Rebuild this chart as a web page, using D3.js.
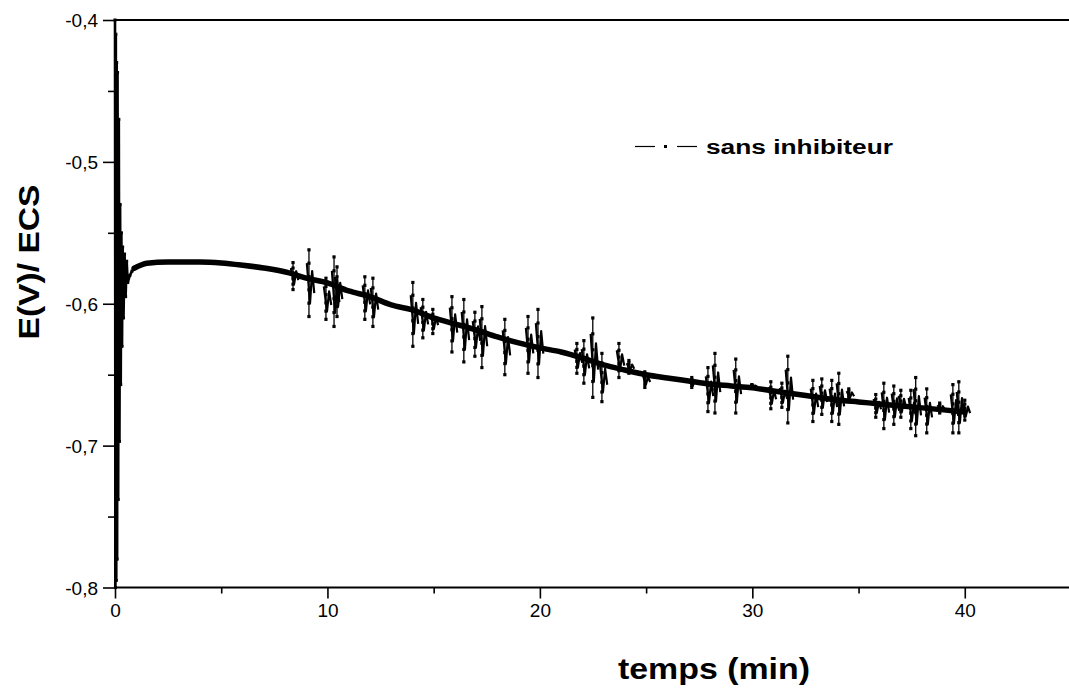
<!DOCTYPE html>
<html><head><meta charset="utf-8">
<script src="https://cdn.jsdelivr.net/npm/d3@7"></script>
<style>body{margin:0;background:#fff}svg{font-family:Arial,"Liberation Sans",sans-serif}</style>
</head><body>
<svg id="c" width="1069" height="691"></svg>
<script>
// initial transient (t in min, E in V)
const initT = [0, 0.02, 0.04, 0.06, 0.08, 0.10, 0.12, 0.15, 0.18, 0.21, 0.24, 0.27, 0.30, 0.33, 0.36, 0.40, 0.45, 0.50, 0.55, 0.60, 0.70, 0.80, 0.90];
const initE = [-0.40, -0.80, -0.41, -0.795, -0.43, -0.78, -0.437, -0.738, -0.47, -0.697, -0.53, -0.657, -0.55, -0.63, -0.56, -0.61, -0.565, -0.595, -0.57, -0.585, -0.58, -0.577, -0.575];
// smooth drift of the potential
const baseT = [0.9, 1.5, 2.5, 4, 5, 6, 7, 8.2, 9, 10, 11, 12, 13, 14, 15, 16, 17, 18, 19, 20, 21, 22, 23, 24, 25, 26, 27, 28, 29, 30, 31, 32, 33, 34, 35, 36, 37, 38, 39, 40];
const baseE = [-0.575, -0.5715, -0.5705, -0.5705, -0.5712, -0.5728, -0.5748, -0.5783, -0.582, -0.5853, -0.591, -0.595, -0.6008, -0.6044, -0.610, -0.6142, -0.6185, -0.6234, -0.6276, -0.6311, -0.634, -0.6382, -0.6431, -0.6467, -0.650, -0.6523, -0.6544, -0.6565, -0.6579, -0.6593, -0.6615, -0.6636, -0.6657, -0.6678, -0.6692, -0.6706, -0.672, -0.6734, -0.6748, -0.6763];
// noise spikes: time, upper and lower extreme
const spikeT  = [8.38, 9.13, 9.93, 10.31, 10.45, 11.76, 12.14, 14.02, 14.49, 14.96, 15.86, 16.42, 16.94, 17.27, 18.35, 19.44, 19.91, 21.74, 22.07, 22.49, 22.92, 23.72, 24.19, 24.94, 27.15, 27.91, 28.24, 29.22, 29.98, 30.87, 31.39, 31.67, 32.85, 33.27, 33.74, 34.07, 34.54, 35.81, 36.19, 36.66, 36.99, 37.46, 37.69, 38.21, 38.82, 39.44, 39.72, 40.00];
const spikeHi = [-0.571, -0.562, -0.582, -0.567, -0.574, -0.581, -0.582, -0.585, -0.597, -0.604, -0.595, -0.597, -0.606, -0.602, -0.611, -0.609, -0.604, -0.628, -0.626, -0.610, -0.635, -0.628, -0.640, -0.648, -0.652, -0.645, -0.635, -0.639, -0.657, -0.655, -0.656, -0.637, -0.654, -0.653, -0.654, -0.649, -0.660, -0.664, -0.656, -0.658, -0.661, -0.661, -0.652, -0.660, -0.670, -0.657, -0.655, -0.668];
const spikeLo = [-0.590, -0.609, -0.611, -0.616, -0.609, -0.611, -0.616, -0.630, -0.624, -0.621, -0.634, -0.641, -0.637, -0.645, -0.650, -0.649, -0.652, -0.649, -0.656, -0.666, -0.669, -0.652, -0.649, -0.659, -0.659, -0.676, -0.677, -0.677, -0.659, -0.674, -0.673, -0.684, -0.683, -0.678, -0.683, -0.685, -0.668, -0.680, -0.688, -0.685, -0.680, -0.688, -0.693, -0.691, -0.677, -0.691, -0.691, -0.682];
const xTicks = [0, 10, 20, 30, 40];
const xMinor = [5, 15, 25, 35, 45];
const yTicks = [-0.8, -0.7, -0.6, -0.5, -0.4];
const yMinor = [-0.75, -0.65, -0.55, -0.45];
const xTitle = "temps (min)";
const yTitle = "E(V)/ ECS";
const legendLabel = "sans inhibiteur";

const svg = d3.select("#c");
const x = d3.scaleLinear().domain([0, 45]).range([115, 1071]);
const y = d3.scaleLinear().domain([-0.8, -0.4]).range([587.5, 20]);
const fmtY = d => d.toFixed(1).replace(".", ",");

// axes
svg.append("g").attr("transform", "translate(0,587.5)")
  .call(d3.axisBottom(x).tickValues(xTicks).tickSize(11).tickPadding(5).tickFormat(d3.format("d")));
svg.append("g").attr("transform", "translate(0,587.5)")
  .call(d3.axisBottom(x).tickValues(xMinor).tickSize(6).tickFormat(""));
const gy = svg.append("g").attr("transform", "translate(115,0)")
  .call(d3.axisLeft(y).tickValues(yTicks).tickSize(12).tickPadding(5).tickFormat(fmtY));
svg.append("g").attr("transform", "translate(115,0)")
  .call(d3.axisLeft(y).tickValues(yMinor).tickSize(7).tickFormat(""));
svg.selectAll(".domain").remove();
svg.selectAll(".tick line").attr("stroke", "#000").attr("stroke-width", 1.6);
svg.selectAll(".tick text").attr("font-size", 19).attr("fill", "#000")
  .attr("font-family", "Arial, 'Liberation Sans', sans-serif");
gy.selectAll(".tick text").attr("dy", "0.35em");

// frame lines
const frame = svg.append("g").attr("stroke", "#000").attr("stroke-width", 2).attr("fill", "none");
frame.append("line").attr("x1", x(0)).attr("x2", x(45)).attr("y1", y(-0.8)).attr("y2", y(-0.8));
frame.append("line").attr("x1", x(0)).attr("x2", x(45)).attr("y1", y(-0.4)).attr("y2", y(-0.4));
frame.append("line").attr("x1", x(0)).attr("x2", x(0)).attr("y1", y(-0.4)).attr("y2", y(-0.8));
frame.append("line").attr("x1", x(45)).attr("x2", x(45)).attr("y1", y(-0.4)).attr("y2", y(-0.8));

// data
const line = d3.line().x(d => x(d[0])).y(d => y(d[1]));
const initPts = initT.map((t, i) => [t, initE[i]]);
const basePts = baseT.map((t, i) => [t, baseE[i]]);
const spikes = spikeT.map((t, i) => ({t, hi: spikeHi[i], lo: spikeLo[i]}));

const plot = svg.append("g");
plot.append("path").datum(initPts).attr("d", line)
  .attr("fill", "none").attr("stroke", "#000").attr("stroke-width", 2.6).attr("stroke-linejoin", "round");
plot.selectAll(".ip").data(initPts).join("rect")
  .attr("x", d => x(d[0]) - 1.5).attr("y", d => y(d[1]) - 1.5).attr("width", 3).attr("height", 3).attr("fill", "#000");
plot.append("path").datum(basePts).attr("d", d3.line().curve(d3.curveMonotoneX).x(d => x(d[0])).y(d => y(d[1])))
  .attr("fill", "none").attr("stroke", "#000").attr("stroke-width", 5.5).attr("stroke-linecap", "round").attr("stroke-linejoin", "round");

// each spike: the full excursion plus the denser inner part of the burst
plot.selectAll(".sp").data(spikes).join("path")
  .attr("d", d => line([[d.t, d.hi], [d.t, d.lo]]))
  .attr("stroke", "#000").attr("stroke-width", 1.3).attr("fill", "none");
plot.selectAll(".sc").data(spikes).join("path")
  .attr("d", d => {
    const m = (d.hi + d.lo) / 2, h = (d.lo - d.hi) * 0.3;
    return line([[d.t - 0.1, m - h], [d.t + 0.05, m + h], [d.t + 0.15, m - h * 0.6], [d.t + 0.25, m + h * 0.5]]);
  })
  .attr("stroke", "#000").attr("stroke-width", 2.2).attr("fill", "none").attr("stroke-linejoin", "round");
const dots = [];
spikes.forEach(d => [0, 0.2, 0.4, 0.6, 0.8, 1].forEach(f => dots.push([d.t, d.hi + (d.lo - d.hi) * f])));
plot.selectAll(".sd").data(dots).join("rect")
  .attr("x", d => x(d[0]) - 1.6).attr("y", d => y(d[1]) - 1.6).attr("width", 3.2).attr("height", 3.2).attr("fill", "#000");

// titles
svg.append("text").attr("x", 618).attr("y", 679).attr("font-size", 29).attr("font-weight", "bold")
  .attr("textLength", 192).attr("lengthAdjust", "spacingAndGlyphs").text(xTitle);
svg.append("text").attr("transform", "translate(39,262) rotate(-90)").attr("text-anchor", "middle")
  .attr("font-size", 30).attr("font-weight", "bold")
  .attr("textLength", 155).attr("lengthAdjust", "spacingAndGlyphs").text(yTitle);

// legend
const lg = svg.append("g");
lg.append("line").attr("x1", 635).attr("x2", 655).attr("y1", 146.5).attr("y2", 146.5).attr("stroke", "#000").attr("stroke-width", 1.2);
lg.append("rect").attr("x", 664).attr("y", 145).attr("width", 3).attr("height", 3).attr("fill", "#000");
lg.append("line").attr("x1", 677).attr("x2", 697).attr("y1", 146.5).attr("y2", 146.5).attr("stroke", "#000").attr("stroke-width", 1.2);
lg.append("text").attr("x", 706).attr("y", 154).attr("font-size", 20).attr("font-weight", "bold")
  .attr("textLength", 187).attr("lengthAdjust", "spacingAndGlyphs").text(legendLabel);
</script>
</body></html>
